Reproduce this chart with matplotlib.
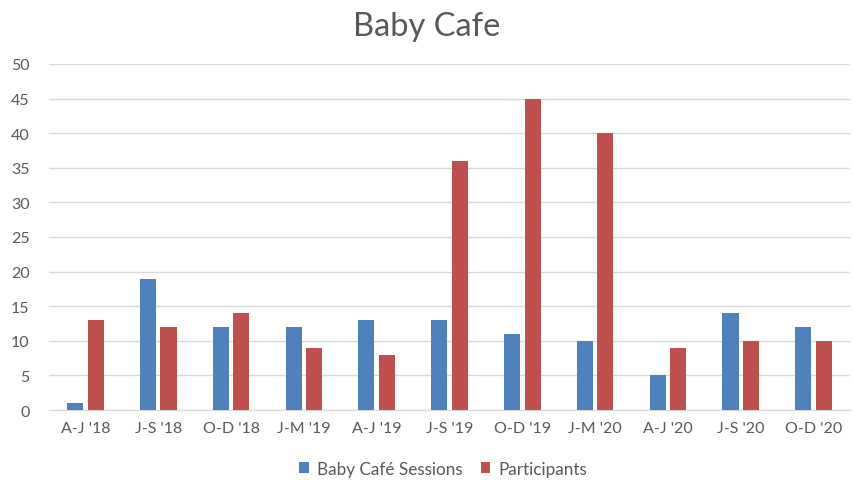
import numpy as np
import matplotlib.pyplot as plt

plt.rcParams['font.family'] = ['Lato', 'DejaVu Sans']

quarters = ["A-J '18", "J-S '18", "O-D '18", "J-M '19", "A-J '19", "J-S '19",
            "O-D '19", "J-M '20", "A-J '20", "J-S '20", "O-D '20"]
sessions = [1, 19, 12, 12, 13, 13, 11, 10, 5, 14, 12]
participants = [13, 12, 14, 9, 8, 36, 45, 40, 9, 10, 10]

txt = '#595959'
fig = plt.figure(figsize=(8.54, 4.81), dpi=100)
ax = fig.add_axes([0.0574, 0.1455, 0.9379, 0.7194])

x = np.arange(len(quarters))
w = 0.22
ax.bar(x - 0.141, sessions, w, color='#4F81BD', label='Baby Café Sessions', zorder=3)
ax.bar(x + 0.141, participants, w, color='#C0504D', label='Participants', zorder=3)

ax.set_xlim(-0.5, len(quarters) - 0.5)
ax.set_ylim(0, 50)
ax.set_yticks(range(0, 51, 5))
ax.set_xticks(x)
ax.set_xticklabels(quarters)
ax.grid(axis='y', color='#D9D9D9', linewidth=1, zorder=0)
for s in ['top', 'right', 'left']:
    ax.spines[s].set_visible(False)
ax.spines['bottom'].set_color('#D9D9D9')
ax.tick_params(length=0, labelsize=11.5, colors=txt)
ax.tick_params(axis='x', pad=8)
ax.tick_params(axis='y', pad=14)

fig.suptitle('Baby Cafe', fontsize=23.5, color=txt, y=0.975)
fig.legend(loc='lower center', ncol=2, frameon=False, fontsize=12.3,
           labelcolor=txt, bbox_to_anchor=(0.519, -0.025), handlelength=0.55,
           handleheight=0.55, columnspacing=1.05, handletextpad=0.5)

fig.savefig('out.png', dpi=100)
